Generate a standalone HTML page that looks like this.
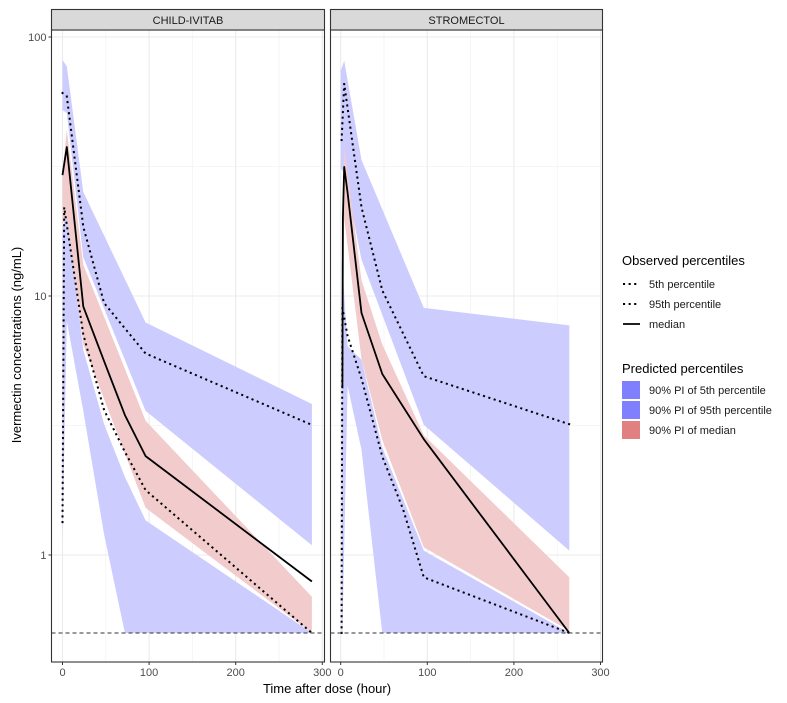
<!DOCTYPE html>
<html><head><meta charset="utf-8">
<style>
html,body{margin:0;padding:0;background:#fff;}
svg{display:block;font-family:"Liberation Sans",Arial,sans-serif;}
</style></head>
<body>
<svg id="chart" width="787" height="703" viewBox="0 0 787 703" xmlns="http://www.w3.org/2000/svg">
<defs>
<clipPath id="clipL"><rect x="51.5" y="30" width="273" height="632"/></clipPath>
<clipPath id="clipR"><rect x="330.5" y="30" width="272" height="632"/></clipPath>
</defs>
<g id="panels"></g>
<text transform="translate(21,345) rotate(-90)" text-anchor="middle" font-size="13" fill="#000">Ivermectin concentrations (ng/mL)</text>
<text x="327" y="693" text-anchor="middle" font-size="13" fill="#000">Time after dose (hour)</text>
<g>
<text x="622" y="265" font-size="13">Observed percentiles</text>
<line x1="624" y1="284" x2="640" y2="284" stroke="#000" stroke-width="2" stroke-dasharray="0.1 5.5" stroke-linecap="square"/>
<text x="649" y="288" font-size="11" fill="#1a1a1a">5th percentile</text>
<line x1="624" y1="304" x2="640" y2="304" stroke="#000" stroke-width="2" stroke-dasharray="0.1 5.5" stroke-linecap="square"/>
<text x="649" y="308" font-size="11" fill="#1a1a1a">95th percentile</text>
<line x1="623" y1="324" x2="640" y2="324" stroke="#000" stroke-width="1.8"/>
<text x="649" y="328" font-size="11" fill="#1a1a1a">median</text>
<text x="622" y="373" font-size="13">Predicted percentiles</text>
<rect x="622" y="381" width="18" height="18" fill="#8080ff"/>
<text x="649" y="394" font-size="11" fill="#1a1a1a">90% PI of 5th percentile</text>
<rect x="622" y="401" width="18" height="18" fill="#8080ff"/>
<text x="649" y="414" font-size="11" fill="#1a1a1a">90% PI of 95th percentile</text>
<rect x="622" y="421" width="18" height="18" fill="#e08080"/>
<text x="649" y="434" font-size="11" fill="#1a1a1a">90% PI of median</text>
</g>
</svg>
<script>
// ---- data: CHILD-IVITAB ----
const L_obsMedT = [0, 5, 24, 48, 72, 96, 288];
const L_obsMed  = [29.3, 37.6, 9.1, 5.6, 3.47, 2.41, 0.79];
const L_obs95T  = [0, 5, 24, 48, 72, 96, 288];
const L_obs95   = [60.8, 59, 18.5, 9.4, 7.5, 6.0, 3.18];
const L_obs5T   = [0, 2, 24, 48, 72, 96, 288];
const L_obs5    = [1.34, 22, 7.1, 3.63, 2.5, 1.78, 0.5];
const L_pi95T   = [0, 5, 24, 96, 288];
const L_pi95Hi  = [81.5, 77, 25.2, 7.9, 3.83];
const L_pi95Lo  = [52.2, 51, 14.1, 3.6, 1.09];
const L_piMedT  = [0, 5, 24, 96, 288];
const L_piMedHi = [30, 43.8, 13.2, 3.3, 0.69];
const L_piMedLo = [19.1, 20, 6.5, 1.52, 0.5];
const L_pi5T    = [0, 5, 24, 48, 72, 96, 288];
const L_pi5Hi   = [18, 21.5, 6.2, 3.2, 2.0, 1.36, 0.5];
const L_pi5Lo   = [1.16, 8, 3.6, 1.2, 0.5, 0.5, 0.5];
// ---- data: STROMECTOL ----
const R_obsMedT = [2, 2.5, 4, 8, 24, 48, 96, 264];
const R_obsMed  = [4.4, 20, 31.5, 25, 8.6, 5.0, 2.8, 0.5];
const R_obs95T  = [1, 4, 24, 48, 96, 264];
const R_obs95   = [40, 66, 22, 10.5, 4.9, 3.2];
const R_obs5T   = [1, 2, 8, 24, 48, 72, 96, 264];
const R_obs5    = [0.5, 9, 7, 4.8, 2.4, 1.5, 0.82, 0.5];
const R_pi95T   = [0, 4, 24, 96, 264];
const R_pi95Hi  = [74, 81, 33.5, 9.0, 7.7];
const R_pi95Lo  = [31, 30, 13.8, 3.18, 1.04];
const R_piMedT  = [1, 4, 24, 48, 96, 264];
const R_piMedHi = [6, 37.6, 11.5, 6.5, 2.9, 0.82];
const R_piMedLo = [4.4, 20, 5.7, 2.78, 1.07, 0.51];
const R_pi5T    = [1, 2, 8, 24, 48, 96, 264];
const R_pi5Hi   = [13.8, 13, 6.4, 5.67, 2.6, 1.04, 0.5];
const R_pi5Lo   = [0.5, 0.5, 4.5, 2.55, 0.5, 0.5, 0.5];
// ---- axes ----
const xTicks = [0, 100, 200, 300];
const xMinor = [50, 150, 250];
const yTicks = [100, 10, 1];
const yMinor = [31.6, 3.16];
const yTickLabels = ["100", "10", "1"];
const lloq = 0.5;
const panelNames = ["CHILD-IVITAB", "STROMECTOL"];

const NS = "http://www.w3.org/2000/svg";
const panelsG = document.getElementById("panels");
const PX = [{left:51.5, right:324.5, x0:62.5, clip:"clipL"}, {left:330.5, right:602.5, x0:340.7, clip:"clipR"}];
const TOP = 30, BOT = 662, STRIP_TOP = 9.5;
const xs = 0.866;
function xScale(p, t){ return PX[p].x0 + t * xs; }
function yScale(c){ return 37 + (2 - Math.log10(c)) * 259; }
function mk(tag, attrs, parent){
  const e = document.createElementNS(NS, tag);
  for (const k in attrs) e.setAttribute(k, attrs[k]);
  parent.appendChild(e); return e;
}
function band(p, g, T, hi, lo, fill, name){
  let pts = [];
  for (let i = 0; i < T.length; i++) pts.push(xScale(p, T[i]).toFixed(1) + "," + yScale(hi[i]).toFixed(1));
  for (let i = T.length - 1; i >= 0; i--) pts.push(xScale(p, T[i]).toFixed(1) + "," + yScale(lo[i]).toFixed(1));
  const e = mk("polygon", {points: pts.join(" "), fill: fill}, g);
  
  
}
function line(p, g, T, v, dotted, name){
  const pts = T.map((t, i) => xScale(p, t).toFixed(1) + "," + yScale(v[i]).toFixed(1)).join(" ");
  const a = {points: pts, fill: "none", stroke: "#000"};
  if (dotted){ a["stroke-width"] = 2; a["stroke-dasharray"] = "0.1 5.5"; a["stroke-linecap"] = "square"; }
  else { a["stroke-width"] = 1.8; a["stroke-linejoin"] = "round"; }
  const e = mk("polyline", a, g);
  
  
}
const data = [
  {o5T:L_obs5T,o5:L_obs5,o95T:L_obs95T,o95:L_obs95,omT:L_obsMedT,om:L_obsMed,p95T:L_pi95T,p95H:L_pi95Hi,p95L:L_pi95Lo,pmT:L_piMedT,pmH:L_piMedHi,pmL:L_piMedLo,p5T:L_pi5T,p5H:L_pi5Hi,p5L:L_pi5Lo},
  {o5T:R_obs5T,o5:R_obs5,o95T:R_obs95T,o95:R_obs95,omT:R_obsMedT,om:R_obsMed,p95T:R_pi95T,p95H:R_pi95Hi,p95L:R_pi95Lo,pmT:R_piMedT,pmH:R_piMedHi,pmL:R_piMedLo,p5T:R_pi5T,p5H:R_pi5Hi,p5L:R_pi5Lo}
];
for (let p = 0; p < 2; p++){
  const P = PX[p], d = data[p];
  const pg = mk("g", {}, panelsG);
  
  
  const gg = mk("g", {}, pg);
  
  
  yMinor.forEach(v => mk("line", {x1:P.left, x2:P.right, y1:yScale(v), y2:yScale(v), stroke:"#f0f0f0", "stroke-width":0.6}, gg));
  xMinor.forEach(v => mk("line", {x1:xScale(p,v), x2:xScale(p,v), y1:TOP, y2:BOT, stroke:"#f0f0f0", "stroke-width":0.6}, gg));
  yTicks.forEach(v => mk("line", {x1:P.left, x2:P.right, y1:yScale(v), y2:yScale(v), stroke:"#ebebeb", "stroke-width":1.1}, gg));
  xTicks.forEach(v => { if (xScale(p,v) < P.right) mk("line", {x1:xScale(p,v), x2:xScale(p,v), y1:TOP, y2:BOT, stroke:"#ebebeb", "stroke-width":1.1}, gg); });
  const dg = mk("g", {"clip-path":"url(#" + P.clip + ")"}, pg);
  
  
  band(p, dg, d.p95T, d.p95H, d.p95L, "#ccccff", "pi-95th-band");
  band(p, dg, d.p5T, d.p5H, d.p5L, "#ccccff", "pi-5th-band");
  band(p, dg, d.pmT, d.pmH, d.pmL, "#f2cccc", "pi-median-band");
  line(p, dg, d.o95T, d.o95, true, "observed-95th-line");
  line(p, dg, d.o5T, d.o5, true, "observed-5th-line");
  line(p, dg, d.omT, d.om, false, "observed-median-line");
  const ll = mk("line", {x1:P.left, x2:P.right, y1:yScale(lloq), y2:yScale(lloq), stroke:"#333", "stroke-width":1, "stroke-dasharray":"4 3"}, dg);
  
  
  const br = mk("rect", {x:P.left, y:TOP, width:P.right-P.left, height:BOT-TOP, fill:"none", stroke:"#333", "stroke-width":1.1}, pg);
  
  
  const st = mk("rect", {x:P.left, y:STRIP_TOP, width:P.right-P.left, height:TOP-STRIP_TOP, fill:"#d9d9d9", stroke:"#333", "stroke-width":1.1}, pg);
  
  
  const stt = mk("text", {x:(P.left+P.right)/2, y:24, "text-anchor":"middle", "font-size":11, fill:"#1a1a1a"}, pg);
  stt.textContent = panelNames[p];
  
  
  xTicks.forEach(v => {
    const x = xScale(p, v);
    mk("line", {x1:x, x2:x, y1:BOT, y2:BOT+3, stroke:"#333", "stroke-width":1}, pg);
    const t = mk("text", {x:x, y:BOT+14, "text-anchor":"middle", "font-size":11, fill:"#4d4d4d"}, pg);
    t.textContent = String(v);
    
    
  });
  if (p === 0){
    yTicks.forEach((v, i) => {
      const y = yScale(v);
      mk("line", {x1:P.left-3, x2:P.left, y1:y, y2:y, stroke:"#333", "stroke-width":1}, pg);
      const t = mk("text", {x:P.left-5, y:y+4, "text-anchor":"end", "font-size":11, fill:"#4d4d4d"}, pg);
      t.textContent = yTickLabels[i];
      
      
    });
  }
}
</script>
</body></html>
